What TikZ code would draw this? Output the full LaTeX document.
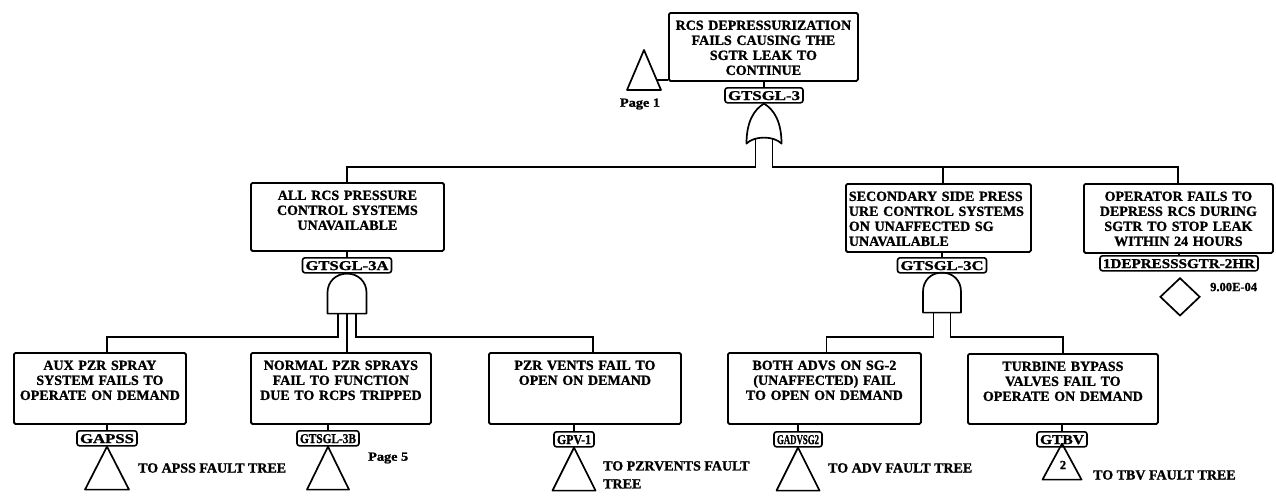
\documentclass[tikz,border=0pt]{standalone}
\usepackage{fontspec}
\setmainfont{Liberation Serif}[BoldFeatures={FakeBold=1.2}]
\usetikzlibrary{calc,shapes.geometric}

\tikzset{
  gate/.style={draw, line width=1.7pt, line join=round},
  wire/.style={line width=1.6pt},
  evbox/.style 2 args={draw, line width=1.8pt, rounded corners=1.5pt, anchor=north west,
    inner xsep=3pt, inner ysep=5pt, text height=12pt, text width=#1, text depth=#2,
    font=\bfseries\fontsize{14}{15}\selectfont, align=center},
  tag/.style={draw, line width=1.6pt, rounded corners=2.5pt, anchor=north,
    inner xsep=3pt, inner ysep=0pt, minimum height=15pt, text height=10.5pt, text depth=1pt,
    font=\bfseries\fontsize{13.5}{13.5}\selectfont},
  note/.style={font=\bfseries\fontsize{14}{18}\selectfont, anchor=west, align=left, inner sep=0pt},
  small/.style={font=\bfseries\fontsize{12.5}{12.5}\selectfont, inner sep=0pt},
  orgate/.pic={
    \draw[gate] (0,0) .. controls (10,6) and (17.5,18) .. (17.5,40)
      .. controls (10,32) and (-10,32) .. (-17.5,40)
      .. controls (-17.5,18) and (-10,6) .. (0,0) -- cycle;
    \coordinate (-a) at (-8.5,35);
    \coordinate (-b) at (8.5,35);
  },
  andgate/.pic={
    \draw[gate] (-19.5,40) -- (-19.5,19) .. controls (-19.5,8) and (-11,0) .. (0,0)
      .. controls (11,0) and (19.5,8) .. (19.5,19) -- (19.5,40) -- cycle;
    \coordinate (-a) at (-9,40);
    \coordinate (-m) at (0,40);
    \coordinate (-b) at (9,40);
  },
  andgatetwo/.pic={
    \draw[gate] (-19,40) -- (-19,19) .. controls (-19,8) and (-11,0) .. (0,0)
      .. controls (11,0) and (19,8) .. (19,19) -- (19,40) -- cycle;
    \coordinate (-a) at (-8.5,40);
    \coordinate (-b) at (8.5,40);
  }
}
\newcommand{\fitw}[2]{\resizebox{#1}{\height}{#2}}

\begin{document}
\begin{tikzpicture}[x=1pt,y=-1pt]
\useasboundingbox (0,0) rectangle (1276,498);

% bus levels
\coordinate (bus1) at (0,167);
\coordinate (bus2) at (0,337);

% ---------- top event ----------
\node[evbox={183pt}{46pt}] (T) at (668,12)
  {RCS DEPRESSURIZATION\\FAILS CAUSING THE\\SGTR LEAK TO\\CONTINUE};
\node[tag] (L0) at (764,87) {\fitw{72pt}{GTSGL-3}};
\draw[wire] (L0.north |- T.south) -- (L0.north);
\pic (g1) at (L0.south) {orgate};

% transfer-in triangle, page 1
\coordinate (p1) at (644,50);
\coordinate (p1r) at ($(p1)+(12.75,30)$);
\draw[gate] (p1) -- ++(17,40) -- ++(-34,0) -- cycle;
\draw[wire] (p1r) -- (p1r -| T.west);
\node[small] (pg1) at (640,104) {\fitw{40pt}{Page 1}};

% ---------- second level ----------
\node[evbox={187pt}{46pt}] (A) at (250,182)
  {ALL RCS PRESSURE\\CONTROL SYSTEMS\\UNAVAILABLE};
\node[evbox={179pt}{46pt}, align=left] (S) at (845,183)
  {SECONDARY SIDE PRESS\\URE CONTROL SYSTEMS\\ON UNAFFECTED SG\\UNAVAILABLE};
\node[evbox={183pt}{47pt}] (O) at (1083,183)
  {OPERATOR FAILS TO\\DEPRESS RCS DURING\\SGTR TO STOP LEAK\\WITHIN 24 HOURS};

\draw[wire] (g1-a) -- (g1-a |- bus1) -| (A.north -| 347,0);
\draw[wire] (g1-b) -- (g1-b |- bus1) -| (O.north -| 1178,0);
\draw[wire] (943,167) -- (S.north -| 943,0);

\node[tag] (LA) at (347,257) {\fitw{83pt}{GTSGL-3A}};
\node[tag] (LC) at (942,257) {\fitw{83pt}{GTSGL-3C}};
\node[tag] (LO) at (1179,255) {\fitw{152pt}{1DEPRESSSGTR-2HR}};
\draw[wire] (LA.north |- A.south) -- (LA.north);
\draw[wire] (LC.north |- S.south) -- (LC.north);
\draw[wire] (LO.north |- O.south) -- (LO.north);

\pic (g2) at (LA.south) {andgate};
\pic (g3) at ([yshift=1pt]LC.south) {andgatetwo};

% basic event
\node[draw, diamond, aspect=1.05, line width=1.7pt, minimum width=40pt, minimum height=38pt,
  inner sep=0pt, anchor=north] (D) at (1180,277) {};
\node[small, anchor=west] (prob) at (1210,287) {9.00E-04};

% ---------- third level ----------
\node[evbox={166pt}{49pt}] (AUX) at (13,352)
  {AUX PZR SPRAY\\SYSTEM FAILS TO\\OPERATE ON DEMAND};
\node[evbox={174pt}{49pt}] (NORM) at (250,352)
  {NORMAL PZR SPRAYS\\FAIL TO FUNCTION\\DUE TO RCPS TRIPPED};
\node[evbox={186pt}{49pt}] (PZR) at (488,352)
  {PZR VENTS FAIL TO\\OPEN ON DEMAND};
\node[evbox={187pt}{49pt}] (BOTH) at (727,352)
  {BOTH ADVS ON SG-2\\(UNAFFECTED) FAIL\\TO OPEN ON DEMAND};
\node[evbox={184pt}{48pt}] (TURB) at (967,353)
  {TURBINE BYPASS\\VALVES FAIL TO\\OPERATE ON DEMAND};

\node[tag] (LAUX) at (107,430) {\fitw{54pt}{GAPSS}};
\node[tag] (LNORM) at (328,430) {\fitw{56pt}{GTSGL-3B}};
\node[tag] (LPZR) at (574,431) {\fitw{34pt}{GPV-1}};
\node[tag] (LBOTH) at (798,431) {\fitw{42pt}{GADVSG2}};
\node[tag] (LTURB) at (1062,431) {\fitw{44pt}{GTBV}};

\draw[wire] (g2-a) -- (g2-a |- bus2) -| (AUX.north -| LAUX.north);
\draw[wire] (g2-m) -- (g2-m |- NORM.north);
\draw[wire] (g2-b) -- (g2-b |- bus2) -| ([xshift=8pt]PZR.north);
\draw[wire] (g3-a) -- (g3-a |- bus2) -| ([xshift=2pt]BOTH.north);
\draw[wire] (g3-b) -- (g3-b |- bus2) -| (TURB.north);

\draw[wire] (LAUX.north |- AUX.south) -- (LAUX.north);
\draw[wire] (LNORM.north |- NORM.south) -- (LNORM.north);
\draw[wire] (LPZR.north |- PZR.south) -- (LPZR.north);
\draw[wire] (LBOTH.north |- BOTH.south) -- (LBOTH.north);
\draw[wire] (LTURB.north |- TURB.south) -- (LTURB.north);

% transfer triangles
\draw[gate] (LAUX.south) -- ++(22,43) -- ++(-44,0) -- cycle;
\draw[gate] (LNORM.south) -- ++(21,43) -- ++(-42,0) -- cycle;
\draw[gate] (LPZR.south) -- ++(21.5,43) -- ++(-43,0) -- cycle;
\draw[gate] (LBOTH.south) -- ++(21.5,43) -- ++(-43,0) -- cycle;
\draw[gate] ([yshift=4pt]LTURB.south) -- ++(19.5,36) -- ++(-39,0) -- cycle;
\node[small] (two) at (1063,465) {2};

\node[note] (nAUX) at (138,468) {TO APSS FAULT TREE};
\node[small, anchor=west] (pg5) at (368,458) {\fitw{40pt}{Page 5}};
\node[note, anchor=north west] (nPZR) at (603,461) {TO PZRVENTS FAULT\\TREE};
\node[note] (nBOTH) at (828,468) {TO ADV FAULT TREE};
\node[note] (nTURB) at (1093,475) {TO TBV FAULT TREE};
\end{tikzpicture}
\end{document}
